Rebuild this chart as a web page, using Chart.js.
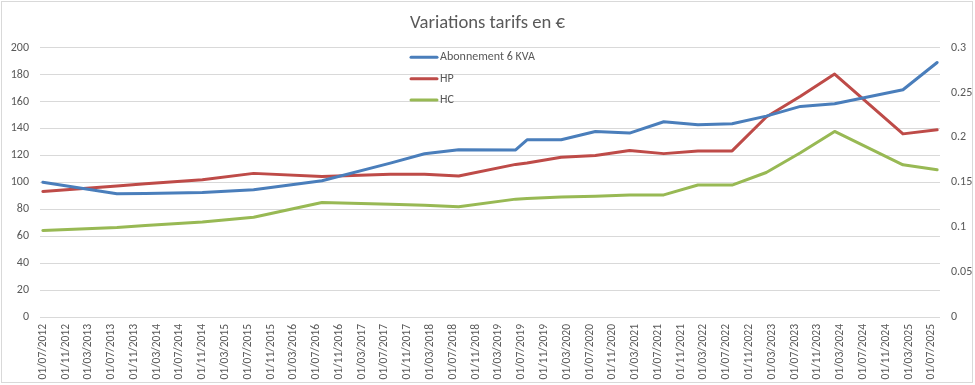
<!DOCTYPE html>
<html>
<head>
<meta charset="utf-8">
<script src="https://cdn.jsdelivr.net/npm/chart.js@4"></script>
<style>
  html, body { margin: 0; padding: 0; background: #fff; }
  #wrap { width: 975px; height: 385px; position: relative; }
</style>
</head>
<body>
<div id="wrap"><canvas id="chart"></canvas></div>
<script>
// dates where the tariffs change
const dates = ['01/07/2012','01/08/2013','01/01/2014','01/11/2014','01/08/2015','01/08/2016','01/08/2017',
  '01/02/2018','01/08/2018','01/06/2019','01/08/2019','01/02/2020','01/08/2020','01/02/2021','01/08/2021',
  '01/02/2022','01/08/2022','01/02/2023','01/08/2023','01/02/2024','01/02/2025','01/08/2025'];

// Abonnement 6 KVA (left axis, €)
const abonnement = [100, 91.5, 91.8, 92.5, 94.5, 101.2, 114.3, 121.2, 124.2, 124.1, 131.6, 131.6,
  137.8, 136.6, 145, 142.8, 143.5, 149.2, 156.4, 158.4, 168.8, 189];
// HP / HC (right axis, €/kWh)
const hp = [0.1398, 0.146, 0.1485, 0.153, 0.160, 0.1565, 0.159, 0.159, 0.157, 0.170, 0.1715, 0.178,
  0.180, 0.1854, 0.182, 0.185, 0.185, 0.2228, 0.246, 0.2706, 0.204, 0.2085];
const hc = [0.0963, 0.0998, 0.102, 0.1058, 0.1112, 0.1275, 0.1257, 0.1245, 0.1227, 0.1313, 0.132, 0.1338,
  0.1346, 0.1358, 0.136, 0.147, 0.147, 0.161, 0.183, 0.2067, 0.1695, 0.164];

const seriesNames = ['Abonnement 6 KVA', 'HP', 'HC'];
const seriesColors = ['#4a7ebb', '#be4b48', '#98b954'];

// one category per month, 07/2012 .. 08/2025
const months = [];
for (let y = 2012, m = 7; y < 2025 || (y === 2025 && m <= 8); m++) {
  if (m > 12) { m = 1; y++; }
  if (y === 2025 && m > 8) break;
  months.push('01/' + String(m).padStart(2, '0') + '/' + y);
}

const FONT = 'Calibri, Carlito, "Liberation Sans", Arial, sans-serif';
const GREY = '#595959';

const pts = arr => arr.map((v, i) => ({ x: dates[i], y: v }));

const legendInside = {
  id: 'legendInside',
  afterDatasetsDraw(chart) {
    const c = chart.ctx;
    c.save();
    c.font = '12px ' + FONT;
    c.textBaseline = 'middle';
    seriesNames.forEach((name, i) => {
      const y = 57.3 + i * 21.4;
      c.strokeStyle = seriesColors[i];
      c.lineWidth = 3;
      c.lineCap = 'round';
      c.beginPath(); c.moveTo(411, y); c.lineTo(437, y); c.stroke();
      c.fillStyle = GREY;
      c.fillText(name, 440, y);
    });
    c.restore();
  }
};

const frame = {
  id: 'frame',
  afterDraw(chart) {
    const c = chart.ctx;
    c.save();
    c.strokeStyle = '#d9d9d9';
    c.lineWidth = 1;
    c.strokeRect(1.5, 1.5, 971, 381);
    c.restore();
  }
};

const ctx = document.getElementById('chart').getContext('2d');
new Chart(ctx, {
  type: 'line',
  data: {
    labels: months,
    datasets: [
      { label: seriesNames[0], data: pts(abonnement), borderColor: seriesColors[0], yAxisID: 'y' },
      { label: seriesNames[1], data: pts(hp), borderColor: seriesColors[1], yAxisID: 'y1' },
      { label: seriesNames[2], data: pts(hc), borderColor: seriesColors[2], yAxisID: 'y1' }
    ]
  },
  options: {
    responsive: true, maintainAspectRatio: false, animation: false,
    layout: { padding: 0 },
    elements: {
      line: { borderWidth: 3, tension: 0, fill: false, borderCapStyle: 'round', borderJoinStyle: 'round' },
      point: { radius: 0, hoverRadius: 0 }
    },
    plugins: {
      legend: { display: false },
      tooltip: { enabled: false },
      title: {
        display: true, text: 'Variations tarifs en €', color: GREY,
        font: { family: FONT, size: 18.67, weight: 'normal' },
        padding: { top: 11.8, bottom: 13.5 }
      }
    },
    scales: {
      x: {
        type: 'category', offset: true,
        grid: { display: false, drawTicks: false },
        border: { display: false },
        ticks: {
          autoSkip: false, minRotation: 90, maxRotation: 90, padding: 7,
          color: GREY, font: { family: FONT, size: 11.5 },
          callback: function(val, idx) { return idx % 4 === 0 ? this.getLabelForValue(val) : ''; }
        },
        afterFit: s => { s.height = 68; }
      },
      y: {
        position: 'left', min: 0, max: 200,
        grid: { color: '#d9d9d9', drawTicks: false },
        border: { display: false },
        ticks: { stepSize: 20, padding: 11, color: GREY, font: { family: FONT, size: 12 } },
        afterFit: s => { s.width = 40; }
      },
      y1: {
        position: 'right', min: 0, max: 0.3,
        grid: { drawOnChartArea: false, drawTicks: false },
        border: { display: false },
        ticks: {
          stepSize: 0.05, padding: 11, color: GREY, font: { family: FONT, size: 12 },
          callback: v => String(+v.toFixed(2))
        },
        afterFit: s => { s.width = 35; }
      }
    }
  },
  plugins: [legendInside, frame]
});
</script>
</body>
</html>
